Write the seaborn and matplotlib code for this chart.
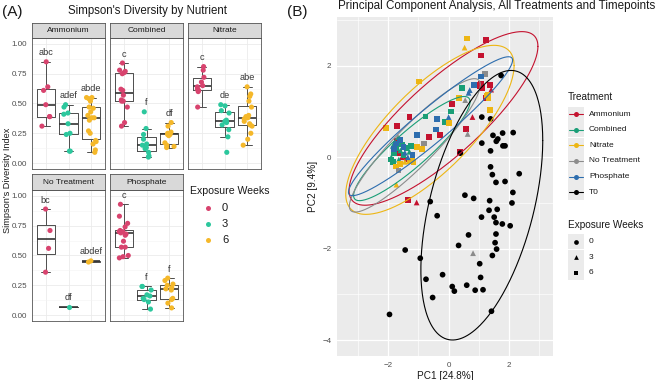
import numpy as np
import pandas as pd
import matplotlib
matplotlib.use("Agg")
import matplotlib.pyplot as plt
import seaborn as sns
from matplotlib.patches import Rectangle

# ---------------- (A) Simpson's diversity ----------------
weeks = ["0", "3", "6"]
week_colors = ["#D8436E", "#2CC79D", "#F5B82A"]
nutrients = ["Ammonium", "Combined", "Nitrate", "No Treatment", "Phosphate"]

ammonium = [
    [0.85, 0.64, 0.61, 0.49, 0.39, 0.39, 0.31],
    [0.49, 0.47, 0.42, 0.41, 0.33, 0.25, 0.24, 0.10, 0.10],
    [0.55, 0.55, 0.54, 0.52, 0.47, 0.46, 0.43, 0.40, 0.38, 0.38, 0.36, 0.27, 0.25, 0.19, 0.18, 0.16, 0.11, 0.09],
]
combined = [
    [0.84, 0.78, 0.77, 0.76, 0.75, 0.62, 0.61, 0.57, 0.53, 0.52, 0.52, 0.47, 0.34, 0.31],
    [0.43, 0.29, 0.24, 0.20, 0.16, 0.15, 0.13, 0.12, 0.09, 0.06, 0.05],
    [0.34, 0.31, 0.26, 0.25, 0.24, 0.24, 0.23, 0.17, 0.15, 0.14, 0.13],
]
nitrate = [
    [0.81, 0.78, 0.72, 0.68, 0.65, 0.64, 0.62, 0.61, 0.60, 0.47],
    [0.49, 0.48, 0.44, 0.42, 0.36, 0.35, 0.34, 0.32, 0.28, 0.22, 0.09],
    [0.64, 0.58, 0.56, 0.52, 0.47, 0.40, 0.39, 0.38, 0.37, 0.35, 0.33, 0.32, 0.31, 0.25, 0.20, 0.15],
]
no_treatment = [
    [0.89, 0.71, 0.56, 0.36],
    [0.07],
    [0.455, 0.445],
]
phosphate = [
    [0.93, 0.83, 0.77, 0.74, 0.71, 0.70, 0.70, 0.69, 0.68, 0.67, 0.62, 0.57, 0.57, 0.50, 0.49, 0.48],
    [0.24, 0.24, 0.21, 0.17, 0.16, 0.14, 0.13, 0.11, 0.05],
    [0.31, 0.29, 0.26, 0.25, 0.23, 0.22, 0.21, 0.14, 0.13, 0.10, 0.06],
]
ammonium_letters = ["abc", "adef", "abde"]
combined_letters = ["c", "f", "df"]
nitrate_letters = ["c", "de", "abe"]
no_treatment_letters = ["bc", "df", "abdef"]
phosphate_letters = ["c", "f", "f"]

# ---------------- (B) PCA ----------------
treatments = ["Ammonium", "Combined", "Nitrate", "No Treatment", "Phosphate", "T0"]
treatment_colors = ["#C4122F", "#1A9E77", "#EDB614", "#8C8C8C", "#2D6DAE", "#000000"]

pca_ammonium = [
    (1.23, 2.56, "6"), (1.08, 2.23, "6"), (1.00, 1.58, "6"), (1.05, 1.55, "6"), (1.12, 1.52, "6"),
    (1.08, 1.60, "6"), (1.38, 1.58, "6"), (1.41, 1.48, "3"), (1.24, 1.30, "6"), (0.10, 1.17, "6"),
    (-1.30, 0.88, "6"), (-1.71, 0.68, "6"), (-0.28, 0.48, "6"), (-0.65, 0.45, "6"), (0.79, 0.88, "3"),
    (0.57, 0.62, "6"), (0.38, 0.12, "6"), (-1.06, -0.99, "3"), (-1.35, -0.93, "6"),
    (-1.70, 0.36, "6"), (-1.55, 0.00, "3"), (-1.40, -0.05, "6"), (-1.65, 0.10, "6"),
]
pca_combined = [
    (0.44, 1.52, "6"), (-0.77, 0.89, "6"), (0.09, 1.00, "6"), (-0.11, 0.77, "6"),
    (-1.85, 0.25, "3"), (-1.80, 0.10, "6"), (-1.90, 0.00, "3"), (-1.85, -0.10, "6"), (-1.75, 0.20, "6"),
    (-1.60, 0.15, "3"), (-1.50, 0.05, "6"), (-1.65, -0.05, "3"), (-1.40, 0.20, "6"), (-1.30, 0.12, "3"),
    (-1.70, 0.30, "6"), (-1.55, 0.28, "6"), (-1.92, -0.05, "6"), (-1.25, 0.25, "6"),
]
pca_nitrate = [
    (0.61, 2.60, "6"), (0.53, 2.40, "3"), (-0.99, 1.66, "6"), (1.30, 1.37, "6"), (1.32, 1.30, "6"),
    (1.26, 1.35, "6"), (0.34, 1.30, "6"), (1.37, 1.03, "6"), (0.02, 0.75, "6"), (-2.07, 0.64, "6"),
    (-1.60, -0.15, "6"), (-1.45, -0.10, "3"), (-1.30, -0.08, "6"), (-1.20, 0.00, "6"), (-1.75, -0.20, "6"),
    (-1.05, 0.22, "6"), (-1.16, -0.11, "6"), (-0.88, 0.18, "6"), (-1.73, -0.60, "3"),
]
pca_no_treatment = [
    (1.21, 1.82, "6"), (0.55, 1.25, "3"), (0.63, 0.51, "3"), (-1.68, 0.45, "3"),
    (-0.81, 0.30, "6"), (-1.66, -0.29, "6"), (0.81, -2.10, "3"),
]
pca_phosphate = [
    (1.07, 1.77, "6"), (0.85, 1.58, "6"), (0.70, 1.47, "3"), (0.66, 1.41, "3"), (-0.39, 0.84, "6"),
    (0.00, 0.88, "3"), (-0.43, 0.61, "6"), (-1.05, 0.48, "6"),
    (-1.75, 0.30, "6"), (-1.60, 0.38, "6"), (-1.45, 0.10, "3"), (-1.50, 0.22, "6"), (-1.80, 0.18, "6"),
    (-1.35, 0.00, "3"), (-1.20, 0.05, "6"),
]
pca_t0 = [
    (1.74, 1.79, "0"), (1.10, 0.88, "0"), (1.39, 0.84, "0"), (1.47, 0.48, "0"), (1.79, 0.53, "0"),
    (2.14, 0.54, "0"), (1.63, 0.40, "0"), (1.58, 0.35, "0"), (1.80, 0.25, "0"), (1.87, 0.25, "0"),
    (1.10, 0.31, "0"), (1.39, 0.14, "0"), (0.39, 0.09, "0"), (1.39, -0.21, "0"), (1.45, -0.38, "0"),
    (2.34, -0.36, "0"), (1.57, -0.55, "0"), (1.87, -0.53, "0"), (2.13, -0.77, "0"), (0.54, -0.83, "0"),
    (0.83, -0.90, "0"), (1.36, -0.95, "0"), (2.10, -1.00, "0"), (-0.61, -0.97, "0"), (-0.38, -1.28, "0"),
    (1.09, -1.31, "0"), (1.51, -1.31, "0"), (1.34, -1.16, "0"), (1.61, -1.14, "0"), (1.57, -1.43, "0"),
    (1.78, -1.46, "0"), (2.04, -1.50, "0"), (0.66, -1.70, "0"), (1.57, -1.68, "0"), (1.54, -1.87, "0"),
    (0.33, -1.93, "0"), (-1.44, -2.03, "0"), (1.59, -2.01, "0"), (1.45, -2.15, "0"), (-0.94, -2.21, "0"),
    (1.03, -2.33, "0"), (-0.20, -2.57, "0"), (-0.75, -2.67, "0"), (1.06, -2.63, "0"), (0.12, -2.83, "0"),
    (0.19, -2.93, "0"), (0.60, -2.80, "0"), (0.88, -2.91, "0"), (1.14, -2.90, "0"), (-0.53, -3.07, "0"),
    (1.42, -3.37, "0"), (-1.96, -3.44, "0"),
]

# 95% ellipses: centre x, centre y, half-width, half-height, correlation
ellipse_cx = [-0.17, -1.22, -0.62, -1.12, -0.60, 1.10]
ellipse_cy = [0.85, 0.19, 0.60, 0.26, 0.68, -1.05]
ellipse_sx = [3.13, 1.93, 2.79, 2.17, 2.72, 2.02]
ellipse_sy = [1.90, 1.14, 1.85, 1.46, 1.52, 2.95]
ellipse_r = [0.83, 0.90, 0.76, 0.91, 0.95, 0.48]

# ---------------- figure ----------------
sns.set_style("white")
plt.rcParams["font.family"] = ["Liberation Sans", "DejaVu Sans"]
W, H = 662, 380
fig = plt.figure(figsize=(6.62, 3.80), dpi=100)


def px_axes(x0, y0, x1, y1):
    return fig.add_axes([x0 / W, 1 - y1 / H, (x1 - x0) / W, (y1 - y0) / H])


simpson_sets = [ammonium, combined, nitrate, no_treatment, phosphate]
letter_sets = [ammonium_letters, combined_letters, nitrate_letters, no_treatment_letters, phosphate_letters]
cols = [(32, 105), (110, 183), (188, 261)]
rows = [(23, 38, 169), (174, 190, 321)]
np.random.seed(3)

for k, name in enumerate(nutrients):
    r, c = divmod(k, 3)
    x0, x1 = cols[c]
    st, pt, pb = rows[r]
    df = pd.DataFrame({
        "week": [w for w, vals in zip(weeks, simpson_sets[k]) for _ in vals],
        "simpson": [v for vals in simpson_sets[k] for v in vals],
    })
    ax = px_axes(x0, pt, x1, pb)
    ax.set_facecolor("white")
    sns.boxplot(data=df, x="week", y="simpson", order=weeks, ax=ax, fill=False,
                color="#4D4D4D", width=0.8, showfliers=False, linewidth=0.7,
                medianprops=dict(linewidth=1.2, color="#333333"))
    sns.stripplot(data=df, x="week", y="simpson", order=weeks, hue="week", hue_order=weeks,
                  palette=week_colors, jitter=0.22, size=3.7, linewidth=0, legend=False, ax=ax,
                  zorder=3)
    for i, vals in enumerate(simpson_sets[k]):
        ax.text(i, max(vals) + 0.075, letter_sets[k][i], ha="center", va="center",
                fontsize=6.6, color="#333333")
    ax.set_xlim(-0.6, 2.6)
    ax.set_ylim(-0.05, 1.05)
    ax.set_xticks([0, 1, 2])
    ax.set_xticklabels([])
    ax.set_yticks([0, 0.25, 0.5, 0.75, 1.0])
    ax.set_yticks([0.125, 0.375, 0.625, 0.875], minor=True)
    ax.grid(which="major", color="#EBEBEB", linewidth=0.6)
    ax.grid(which="minor", axis="y", color="#F3F3F3", linewidth=0.4)
    ax.set_axisbelow(True)
    ax.set_xlabel("")
    ax.set_ylabel("")
    ax.tick_params(axis="x", length=0)
    ax.tick_params(axis="y", which="minor", length=0)
    if c == 0:
        ax.set_yticklabels(["0.00", "0.25", "0.50", "0.75", "1.00"])
        ax.tick_params(axis="y", length=2, width=0.5, color="#555555", labelsize=5.8,
                       labelcolor="#4D4D4D", pad=1.5)
    else:
        ax.set_yticklabels([])
        ax.tick_params(axis="y", length=0)
    for s in ax.spines.values():
        s.set_color("#555555")
        s.set_linewidth(0.6)
    sax = px_axes(x0, st, x1, pt)
    sax.set_facecolor("#D9D9D9")
    sax.set_xticks([])
    sax.set_yticks([])
    for s in sax.spines.values():
        s.set_color("#555555")
        s.set_linewidth(0.6)
    sax.text(0.5, 0.5, name, ha="center", va="center", fontsize=6, color="#1A1A1A",
             transform=sax.transAxes)

# ---- PCA panel ----
pca_sets = [pca_ammonium, pca_combined, pca_nitrate, pca_no_treatment, pca_phosphate, pca_t0]
pca_df = pd.DataFrame(
    [(x, y, t, w) for t, pts in zip(treatments, pca_sets) for (x, y, w) in pts],
    columns=["PC1", "PC2", "Treatment", "Week"],
)
bx = px_axes(337, 17, 553, 356)
bx.set_facecolor("#EBEBEB")
sns.scatterplot(data=pca_df, x="PC1", y="PC2", hue="Treatment", hue_order=treatments,
                palette=treatment_colors, style="Week", style_order=weeks,
                markers={"0": "o", "3": "^", "6": "s"}, s=17, linewidth=0, legend=False,
                ax=bx, zorder=3)
t = np.linspace(0, 2 * np.pi, 300)
for i, col in enumerate(treatment_colors):
    ex = ellipse_cx[i] + ellipse_sx[i] * np.cos(t)
    ey = ellipse_cy[i] + ellipse_sy[i] * (ellipse_r[i] * np.cos(t)
                                          + np.sqrt(1 - ellipse_r[i] ** 2) * np.sin(t))
    bx.plot(ex, ey, color=col, linewidth=0.8, zorder=4)
bx.set_xlim(-3.70, 3.46)
bx.set_ylim(-4.35, 3.07)
bx.set_xticks([-2, 0, 2])
bx.set_yticks([-4, -2, 0, 2])
bx.set_xticks([-3, -1, 1, 3], minor=True)
bx.set_yticks([-3, -1, 1, 3], minor=True)
bx.grid(which="major", color="white", linewidth=0.9)
bx.grid(which="minor", color="white", linewidth=0.45)
bx.set_axisbelow(True)
for s in bx.spines.values():
    s.set_visible(False)
bx.tick_params(which="major", length=2.5, width=0.5, color="#333333", labelsize=5.8,
               labelcolor="#4D4D4D", pad=1.5)
bx.tick_params(which="minor", length=0)
bx.set_xlabel("PC1 [24.8%]", fontsize=7.2, color="#1A1A1A", labelpad=2)
bx.set_ylabel("PC2 [9.4%]", fontsize=7.2, color="#1A1A1A", labelpad=3)

# ---- overlay for titles and legends (pixel coordinates) ----
ov = fig.add_axes([0, 0, 1, 1], zorder=10)
ov.set_xlim(0, W)
ov.set_ylim(H, 0)
ov.axis("off")
ov.patch.set_alpha(0)

ov.text(2, 12, "(A)", fontsize=11, va="center", ha="left", color="#1A1A1A")
ov.text(147, 11, "Simpson's Diversity by Nutrient", fontsize=8.3, va="center", ha="center",
        color="#1A1A1A")
ov.text(8, 180, "Simpson's Diversity Index", fontsize=6.6, rotation=90, va="center",
        ha="center", color="#1A1A1A")
ov.text(287, 12, "(B)", fontsize=11, va="center", ha="left", color="#1A1A1A")
ov.text(497, 6, "Principal Component Analysis, All Treatments and Timepoints", fontsize=8.4,
        va="center", ha="center", color="#1A1A1A")

# legend A
ov.text(190, 191, "Exposure Weeks", fontsize=7.6, va="center", ha="left", color="#1A1A1A")
for i, (w, col) in enumerate(zip(weeks, week_colors)):
    yy = 208 + i * 15.8
    ov.plot([208], [yy], "o", color=col, markersize=3.6, markeredgewidth=0)
    ov.text(222, yy, w, fontsize=8, va="center", ha="left", color="#1A1A1A")

# legend B: Treatment
ov.text(568, 97.5, "Treatment", fontsize=7.2, va="center", ha="left", color="#1A1A1A")
for i, (name, col) in enumerate(zip(treatments, treatment_colors)):
    yy = 114.3 + i * 15.55
    ov.add_patch(Rectangle((568, yy - 7.6), 15.5, 15.2, color="#EBEBEB", lw=0))
    ov.plot([569, 582.5], [yy, yy], color=col, linewidth=0.8)
    ov.plot([575.7], [yy], "o", color=col, markersize=3.6, markeredgewidth=0)
    ov.text(589, yy, name, fontsize=6, va="center", ha="left", color="#1A1A1A")

# legend B: Exposure Weeks
ov.text(568, 224.5, "Exposure Weeks", fontsize=7.2, va="center", ha="left", color="#1A1A1A")
for i, (w, mk) in enumerate(zip(weeks, ["o", "^", "s"])):
    yy = 241.7 + i * 15.6
    ov.add_patch(Rectangle((568, yy - 7.6), 15.5, 15.2, color="#EBEBEB", lw=0))
    ov.plot([575.7], [yy], mk, color="black", markersize=3.4, markeredgewidth=0)
    ov.text(589, yy, w, fontsize=6, va="center", ha="left", color="#1A1A1A")

fig.savefig("out.png", dpi=100)
